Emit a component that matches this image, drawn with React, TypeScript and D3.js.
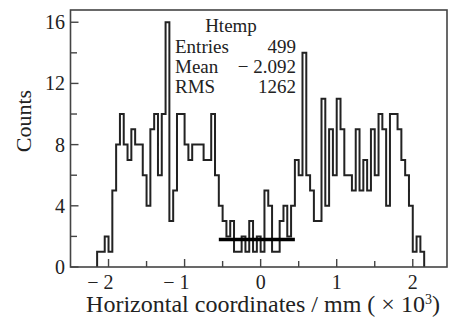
import * as d3 from "d3";

// histogram "Htemp": 100 bins of 0.05 over the x range, only filled ones kept
const binStart = -2.15;
const binWidth = 0.05;
const counts = [
  1, 1, 2, 1, 5, 8, 10, 8, 7, 9,
  8, 8, 6, 4, 9, 10, 6, 10, 16, 3,
  5, 10, 10, 8, 7, 8, 8, 8, 7, 7,
  10, 6, 4, 3, 2, 3, 1, 1, 2, 1,
  3, 1, 2, 1, 5, 4, 1, 1, 3, 4,
  2, 4, 7, 6, 14, 6, 5, 3, 3, 11,
  4, 9, 6, 11, 9, 6, 6, 5, 9, 5,
  7, 5, 9, 6, 10, 9, 4, 10, 10, 9,
  7, 6, 4, 1, 2, 1,
];

// flat fit across the middle
const fitRange = [-0.55, 0.45];
const fitLevel = 1.8;

const xMajor = [-2, -1, 0, 1, 2];
const xMinor = [-1.5, -0.5, 0.5, 1.5];
const yMajor = [0, 4, 8, 12, 16];
const yMinor = [2, 6, 10, 14];

const statNames = ["Entries", "Mean", "RMS"];
const statValues = ["499", "\u2212 2.092", "1262"];

const W = 452;
const H = 325;
const font = "'Liberation Serif', 'Times New Roman', serif";
const ink = "#222";

export default function App() {
  const x = d3.scaleLinear().domain([-2.5, 2.45]).range([70.5, 447]);
  const y = d3.scaleLinear().domain([0, 16.8]).range([267, 10]);

  const pts: [number, number][] = [[binStart, 0]];
  counts.forEach((c, i) => pts.push([binStart + i * binWidth, c]));
  pts.push([binStart + counts.length * binWidth, 0]);

  const histLine = d3
    .line<[number, number]>()
    .x((d) => x(d[0]))
    .y((d) => y(d[1]))
    .curve(d3.curveStepAfter);

  const [x0, x1] = x.range();
  const [yb, yt] = y.range();

  const label = (v: number) => (v < 0 ? "\u2212 " + Math.abs(v) : String(v));

  return (
    <svg
      width={W}
      height={H}
      style={{ position: "absolute", left: 0, top: 0, background: "#fff" }}
      fontFamily={font}
    >
      <path d={histLine(pts) ?? ""} fill="none" stroke={ink} strokeWidth={2} />
      <line
        x1={x(fitRange[0])}
        x2={x(fitRange[1])}
        y1={y(fitLevel)}
        y2={y(fitLevel)}
        stroke="#000"
        strokeWidth={3.5}
      />

      {/* frame */}
      <rect x={x0} y={yt} width={x1 - x0} height={yb - yt} fill="none" stroke="#444" strokeWidth={1.6} />

      {/* x axis */}
      {xMajor.map((d) => (
        <g key={"xM" + d}>
          <line x1={x(d)} x2={x(d)} y1={yb} y2={yb - 8} stroke="#444" strokeWidth={1.4} />
          <text
            x={x(d) + (d < 0 ? 5 : 0)}
            y={289}
            textAnchor={d < 0 ? "end" : "middle"}
            fontSize={20}
            fill={ink}
          >
            {label(d)}
          </text>
        </g>
      ))}
      {xMinor.map((d) => (
        <line key={"xm" + d} x1={x(d)} x2={x(d)} y1={yb} y2={yb - 6} stroke="#444" strokeWidth={1.4} />
      ))}
      <text x={263} y={312} textAnchor="middle" fontSize={24} fill={ink}>
        Horizontal coordinates / mm ( × 10<tspan dy={-8} fontSize={14}>3</tspan>
        <tspan dy={8}>)</tspan>
      </text>

      {/* y axis */}
      {yMajor.map((d) => (
        <g key={"yM" + d}>
          <line x1={x0} x2={x0 + 8} y1={y(d)} y2={y(d)} stroke="#444" strokeWidth={1.4} />
          <text x={65} y={y(d) + 7} textAnchor="end" fontSize={20} fill={ink}>
            {d}
          </text>
        </g>
      ))}
      {yMinor.map((d) => (
        <line key={"ym" + d} x1={x0} x2={x0 + 6.5} y1={y(d)} y2={y(d)} stroke="#444" strokeWidth={1.4} />
      ))}
      <text
        transform={`translate(31,${121}) rotate(-90)`}
        textAnchor="middle"
        fontSize={22}
        fill={ink}
      >
        Counts
      </text>

      {/* stats */}
      <text x={231} y={32} textAnchor="middle" fontSize={19} fill={ink}>
        Htemp
      </text>
      {statNames.map((n, i) => (
        <g key={n}>
          <text x={175} y={52.5 + i * 20} fontSize={19} fill={ink}>
            {n}
          </text>
          <text x={296} y={52.5 + i * 20} textAnchor="end" fontSize={19} fill={ink}>
            {statValues[i]}
          </text>
        </g>
      ))}
    </svg>
  );
}
